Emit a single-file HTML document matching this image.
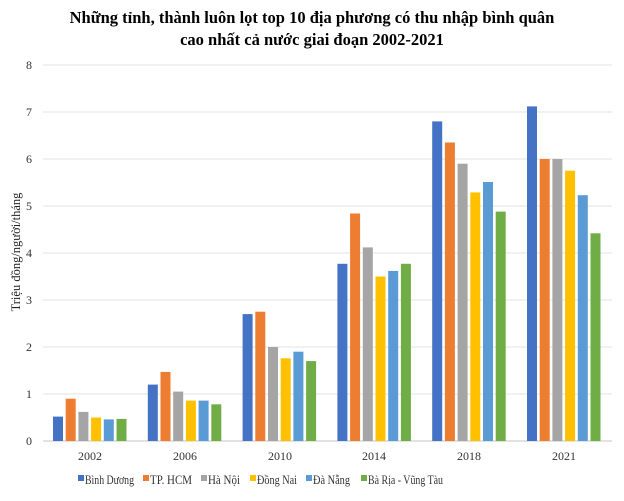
<!DOCTYPE html>
<html><head><meta charset="utf-8"><style>
body{margin:0;background:#fff;}
</style></head><body>
<svg width="624" height="496" xmlns="http://www.w3.org/2000/svg" font-family="Liberation Serif, serif">
<rect width="624" height="496" fill="#fff"/>
<text x="312" y="23" text-anchor="middle" font-size="16.5" font-weight="bold">Những tỉnh, thành luôn lọt top 10 địa phương có thu nhập bình quân</text>
<text x="312" y="45" text-anchor="middle" font-size="16.5" font-weight="bold">cao nhất cả nước giai đoạn 2002-2021</text>
<g stroke="#e3e3e3" stroke-width="1">
<line x1="43" x2="612" y1="65" y2="65"/><line x1="43" x2="612" y1="112" y2="112"/>
<line x1="43" x2="612" y1="159" y2="159"/><line x1="43" x2="612" y1="206" y2="206"/>
<line x1="43" x2="612" y1="253" y2="253"/><line x1="43" x2="612" y1="300" y2="300"/>
<line x1="43" x2="612" y1="347" y2="347"/><line x1="43" x2="612" y1="394" y2="394"/>
</g>
<line x1="43" x2="612" y1="441" y2="441" stroke="#d9d9d9" stroke-width="1.5"/>
<g font-size="12" text-anchor="middle" fill="#333">
<text x="29" y="445">0</text><text x="29" y="398">1</text><text x="29" y="351">2</text><text x="29" y="304">3</text><text x="29" y="257">4</text><text x="29" y="210">5</text><text x="29" y="163">6</text><text x="29" y="116">7</text><text x="29" y="69">8</text>
</g>
<text transform="translate(20,252) rotate(-90)" text-anchor="middle" font-size="12.5" fill="#222">Triệu đồng/người/tháng</text>
<g>
<rect x="53" y="416.6" width="10" height="24.4" fill="#4472C4"/>
<rect x="65.7" y="398.7" width="10" height="42.3" fill="#ED7D31"/>
<rect x="78.4" y="411.9" width="10" height="29.1" fill="#A5A5A5"/>
<rect x="91.1" y="417.5" width="10" height="23.5" fill="#FFC000"/>
<rect x="103.8" y="419.4" width="10" height="21.6" fill="#5B9BD5"/>
<rect x="116.5" y="418.9" width="10" height="22.1" fill="#70AD47"/>

<rect x="147.8" y="384.6" width="10" height="56.4" fill="#4472C4"/>
<rect x="160.5" y="371.9" width="10" height="69.1" fill="#ED7D31"/>
<rect x="173.2" y="391.6" width="10" height="49.4" fill="#A5A5A5"/>
<rect x="185.9" y="400.6" width="10" height="40.4" fill="#FFC000"/>
<rect x="198.6" y="400.6" width="10" height="40.4" fill="#5B9BD5"/>
<rect x="211.3" y="404.3" width="10" height="36.7" fill="#70AD47"/>

<rect x="242.6" y="314.1" width="10" height="126.9" fill="#4472C4"/>
<rect x="255.3" y="311.7" width="10" height="129.3" fill="#ED7D31"/>
<rect x="268" y="347" width="10" height="94" fill="#A5A5A5"/>
<rect x="280.7" y="358.3" width="10" height="82.7" fill="#FFC000"/>
<rect x="293.4" y="351.7" width="10" height="89.3" fill="#5B9BD5"/>
<rect x="306.1" y="361.1" width="10" height="79.9" fill="#70AD47"/>

<rect x="337.4" y="263.8" width="10" height="177.2" fill="#4472C4"/>
<rect x="350.1" y="213.5" width="10" height="227.5" fill="#ED7D31"/>
<rect x="362.8" y="247.4" width="10" height="193.6" fill="#A5A5A5"/>
<rect x="375.5" y="276.5" width="10" height="164.5" fill="#FFC000"/>
<rect x="388.2" y="270.9" width="10" height="170.1" fill="#5B9BD5"/>
<rect x="400.9" y="263.8" width="10" height="177.2" fill="#70AD47"/>

<rect x="432.2" y="121.4" width="10" height="319.6" fill="#4472C4"/>
<rect x="444.9" y="142.5" width="10" height="298.5" fill="#ED7D31"/>
<rect x="457.6" y="163.7" width="10" height="277.3" fill="#A5A5A5"/>
<rect x="470.3" y="192.4" width="10" height="248.6" fill="#FFC000"/>
<rect x="483" y="182" width="10" height="259" fill="#5B9BD5"/>
<rect x="495.7" y="211.6" width="10" height="229.4" fill="#70AD47"/>

<rect x="527" y="106.4" width="10" height="334.6" fill="#4472C4"/>
<rect x="539.7" y="159" width="10" height="282" fill="#ED7D31"/>
<rect x="552.4" y="159" width="10" height="282" fill="#A5A5A5"/>
<rect x="565.1" y="170.7" width="10" height="270.3" fill="#FFC000"/>
<rect x="577.8" y="195.2" width="10" height="245.8" fill="#5B9BD5"/>
<rect x="590.5" y="233.3" width="10" height="207.7" fill="#70AD47"/>
</g>
<g font-size="12" text-anchor="middle" fill="#333">
<text x="90" y="460">2002</text><text x="185" y="460">2006</text><text x="280" y="460">2010</text><text x="374" y="460">2014</text><text x="469" y="460">2018</text><text x="564" y="460">2021</text>
</g>
<g font-size="13" fill="#333">
<rect x="78" y="475" width="6" height="6" fill="#4472C4"/><text x="85" y="484" textLength="49" lengthAdjust="spacingAndGlyphs">Bình Dương</text>
<rect x="143" y="475" width="6" height="6" fill="#ED7D31"/><text x="150" y="484" textLength="42" lengthAdjust="spacingAndGlyphs">TP. HCM</text>
<rect x="201" y="475" width="6" height="6" fill="#A5A5A5"/><text x="208" y="484" textLength="32" lengthAdjust="spacingAndGlyphs">Hà Nội</text>
<rect x="250" y="475" width="6" height="6" fill="#FFC000"/><text x="257" y="484" textLength="40" lengthAdjust="spacingAndGlyphs">Đồng Nai</text>
<rect x="306" y="475" width="6" height="6" fill="#5B9BD5"/><text x="313" y="484" textLength="37" lengthAdjust="spacingAndGlyphs">Đà Nẵng</text>
<rect x="361" y="475" width="6" height="6" fill="#70AD47"/><text x="368" y="484" textLength="75" lengthAdjust="spacingAndGlyphs">Bà Rịa - Vũng Tàu</text>
</g>
</svg>
</body></html>
